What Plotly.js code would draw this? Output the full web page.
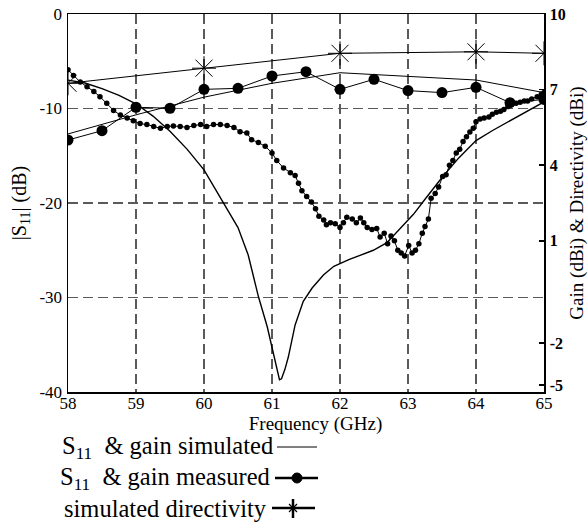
<!DOCTYPE html>
<html>
<head>
<meta charset="utf-8">
<script src="https://cdn.plot.ly/plotly-3.0.1.min.js"></script>
<style>html,body{margin:0;padding:0;background:#fff;}#chart{width:588px;height:522px;}</style>
</head>
<body>
<div id="chart"></div>
<script>
// Simulated S11 (dB)
const simS11Freq = [58.0,58.25,58.5,58.75,59.0,59.25,59.5,59.75,60.0,60.25,60.5,60.65,60.8,60.93,61.02,61.08,61.11,61.14,61.19,61.24,61.34,61.46,61.59,61.76,61.91,62.13,62.49,62.69,62.89,63.08,63.25,63.5,63.75,64.0,64.25,64.5,64.75,65.0];
const simS11 = [-7.0,-7.3,-7.9,-8.6,-9.5,-10.8,-12.4,-14.3,-16.5,-19.5,-22.6,-25.5,-29.9,-33.1,-35.9,-37.8,-38.7,-38.6,-37.6,-36.3,-32.9,-30.4,-29.0,-27.6,-26.7,-26.0,-25.0,-24.2,-22.7,-21.2,-19.6,-17.3,-15.2,-13.4,-12.3,-11.3,-10.3,-9.3];

// Measured S11 (dB)
const measS11Freq = [58.00,58.08,58.18,58.28,58.38,58.47,58.57,58.67,58.77,58.87,58.96,59.06,59.16,59.26,59.36,59.46,59.55,59.65,59.75,59.85,59.95,60.04,60.14,60.24,60.34,60.44,60.53,60.63,60.70,60.80,60.90,61.00,61.07,61.17,61.27,61.34,61.39,61.44,61.51,61.58,61.64,61.69,61.76,61.80,61.86,61.93,62.00,62.05,62.10,62.18,62.24,62.30,62.35,62.40,62.47,62.54,62.59,62.65,62.70,62.75,62.80,62.85,62.90,62.95,63.01,63.06,63.11,63.16,63.21,63.25,63.30,63.34,63.40,63.45,63.51,63.56,63.61,63.66,63.71,63.76,63.81,63.86,63.91,63.96,64.00,64.06,64.12,64.19,64.24,64.30,64.36,64.41,64.47,64.53,64.59,64.65,64.71,64.76,64.82,64.90,64.96,65.00];
const measS11 = [-5.9,-6.5,-7.2,-7.7,-8.2,-8.75,-9.45,-10.2,-10.7,-11.0,-11.3,-11.6,-11.7,-11.9,-12.1,-11.9,-11.85,-11.9,-12.0,-11.8,-11.7,-11.9,-11.7,-11.7,-11.8,-12.0,-12.45,-12.6,-13.3,-13.6,-14.0,-14.7,-15.5,-16.3,-16.8,-17.1,-17.9,-18.7,-19.3,-19.9,-20.6,-21.4,-21.8,-22.3,-22.1,-22.2,-22.6,-22.1,-21.5,-21.7,-22.1,-21.6,-22.1,-22.6,-22.8,-22.7,-23.6,-23.2,-24.3,-23.5,-24.0,-25.0,-25.3,-25.6,-24.5,-25.3,-25.0,-24.3,-23.2,-22.5,-21.7,-19.5,-19.0,-18.3,-17.2,-17.0,-16.0,-15.5,-14.7,-14.3,-13.5,-13.0,-12.5,-12.1,-11.4,-11.1,-11.0,-10.9,-10.6,-10.4,-10.3,-10.1,-9.8,-9.5,-9.45,-9.35,-9.2,-9.2,-9.0,-8.75,-8.5,-8.3];

// Simulated gain (dBi)
const simGainFreq = [58,59,60,61,62,63,64,65];
const simGain = [5.24,6.0,6.7,7.25,7.67,7.52,7.38,6.88];

// Measured gain (dBi)
const measGainFreq = [58,58.5,59,59.5,60,60.5,61,61.5,62,62.5,63,63.5,64,64.5,65];
const measGain = [5.0,5.37,6.3,6.26,7.01,7.05,7.54,7.71,7.01,7.41,6.96,6.88,7.09,6.48,6.61];

// Simulated directivity (dBi)
const dirFreq = [58,60,62,64,65];
const directivity = [7.25,7.85,8.44,8.5,8.44];

// Axis ticks (right-axis labels sit where the reference prints them)
const xTicks = [58,59,60,61,62,63,64,65];
const s11Ticks = [0,-10,-20,-30,-40];
const gainTickPos = [10,7,4,1,-3.06,-4.72];
const gainTickText = ['10','7','4','1','-2','-5'];

const serif = "Liberation Serif";
const gridCol = "#5a5a5a";

const traces = [
  {x: simS11Freq, y: simS11, type:'scatter', mode:'lines', line:{color:'#000', width:1.4}, yaxis:'y', showlegend:false},
  {x: measS11Freq, y: measS11, type:'scatter', mode:'lines+markers', line:{color:'#000', width:1}, marker:{color:'#000', size:5.5}, yaxis:'y', showlegend:false},
  {x: simGainFreq, y: simGain, type:'scatter', mode:'lines', line:{color:'#000', width:1}, yaxis:'y2', showlegend:false},
  {x: measGainFreq, y: measGain, type:'scatter', mode:'lines+markers', line:{color:'#000', width:1}, marker:{color:'#000', size:11}, yaxis:'y2', showlegend:false},
  {x: dirFreq, y: directivity, type:'scatter', mode:'lines+markers', line:{color:'#000', width:1}, marker:{symbol:'asterisk-open', size:20, color:'#000', line:{color:'#000', width:1}}, yaxis:'y2', showlegend:false}
];

const L = 68, R = 44, T = 14, B = 130, W = 588, H = 522;
const pw = W - L - R, ph = H - T - B;
const px = v => (v - L) / pw;
const py = v => (H - B - v) / ph;

const legendItems = [
  {text:"S<sub>11</sub>  & gain simulated", y:447, xr:275},
  {text:"S<sub>11</sub>  & gain measured", y:478, xr:272},
  {text:"simulated directivity", y:508, xr:269}
];

const annotations = legendItems.map(it => ({
  xref:'paper', yref:'paper', x:px(it.xr), y:py(it.y), xanchor:'right', yanchor:'middle',
  text: it.text, showarrow:false, font:{family:serif, size:24.5, color:'#000'}
}));

const shapes = [
  {type:'line', xref:'paper', yref:'paper', x0:px(277), x1:px(317), y0:py(447), y1:py(447), line:{color:'#000', width:1}},
  {type:'line', xref:'paper', yref:'paper', x0:px(275), x1:px(318), y0:py(478), y1:py(478), line:{color:'#000', width:2.5}},
  {type:'circle', xref:'paper', yref:'paper', xsizemode:'pixel', ysizemode:'pixel', xanchor:px(297), yanchor:py(478), x0:-5, x1:5, y0:-5, y1:5, fillcolor:'#000', line:{color:'#000', width:1}},
  {type:'line', xref:'paper', yref:'paper', x0:px(272), x1:px(315), y0:py(508), y1:py(508), line:{color:'#000', width:2.5}},
  {type:'line', xref:'paper', yref:'paper', x0:px(293), x1:px(293), y0:py(499), y1:py(518), line:{color:'#000', width:2.5}},
  {type:'line', xref:'paper', yref:'paper', x0:px(289), x1:px(297), y0:py(504), y1:py(512), line:{color:'#000', width:1.2}},
  {type:'line', xref:'paper', yref:'paper', x0:px(289), x1:px(297), y0:py(512), y1:py(504), line:{color:'#000', width:1.2}}
];

const layout = {
  width: W, height: H,
  margin: {l:L, r:R, t:T, b:B, pad:0},
  paper_bgcolor:'#fff', plot_bgcolor:'#fff',
  showlegend:false,
  font:{family:serif, color:'#000'},
  xaxis: {
    range:[58,65], tickvals:xTicks, ticktext:xTicks.map(String),
    showgrid:true, gridcolor:gridCol, gridwidth:1.5, griddash:'10px,5px',
    zeroline:false, showline:true, linecolor:'#000', linewidth:1.5, mirror:true,
    ticks:'', ticklabelstandoff:-5,
    tickfont:{family:serif, size:17, color:'#000'},
    title:{text:'&nbsp;&nbsp;&nbsp;&nbsp;Frequency (GHz)', font:{family:serif, size:19, color:'#000'}, standoff:4}
  },
  yaxis: {
    range:[-40,0], tickvals:s11Ticks, ticktext:s11Ticks.map(String),
    showgrid:true, gridcolor:gridCol, gridwidth:1.5, griddash:'10px,5px',
    zeroline:false, showline:true, linecolor:'#000', linewidth:1.5, mirror:true,
    ticks:'', ticklabelstandoff:1,
    tickfont:{family:serif, size:17, color:'#000'},
    title:{text:'|S<sub>11</sub>| (dB)', font:{family:serif, size:20, color:'#000'}, standoff:7}
  },
  yaxis2: {
    range:[-5,10], tickvals:gainTickPos, ticktext:gainTickText,
    overlaying:'y', side:'right', showgrid:false, zeroline:false,
    showline:true, linecolor:'#000', linewidth:1.5,
    ticks:'inside', ticklen:5, tickwidth:1.5, tickcolor:'#000', ticklabelstandoff:1,
    tickfont:{family:serif, size:16, color:'#000', weight:'bold'},
    title:{text:'Gain (dBi) & Directivity (dBi)', font:{family:serif, size:19, color:'#000'}, standoff:8}
  },
  annotations: annotations,
  shapes: shapes
};

Plotly.newPlot('chart', traces, layout, {staticPlot:true, displayModeBar:false});
</script>
</body>
</html>
